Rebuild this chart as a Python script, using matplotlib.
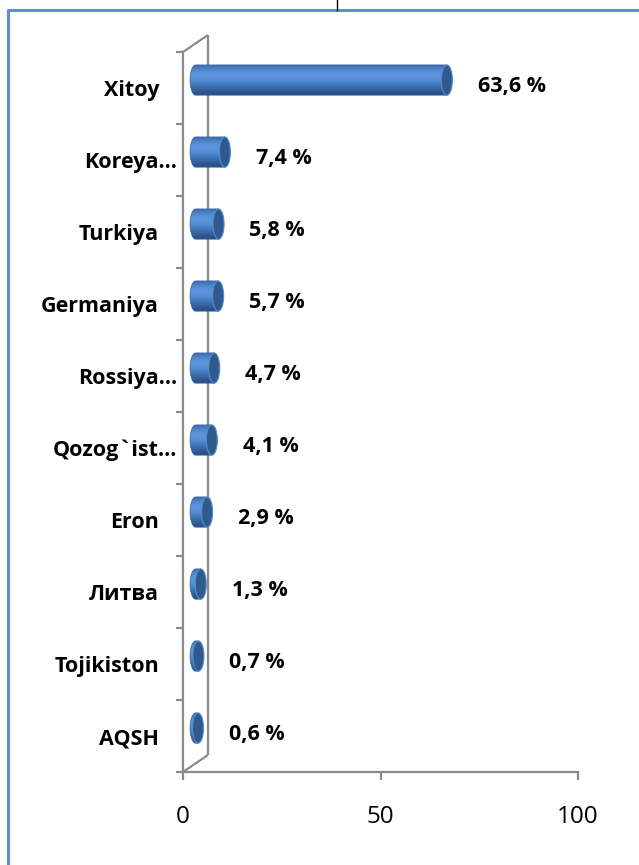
import numpy as np
import matplotlib
matplotlib.use('Agg')
import matplotlib.pyplot as plt
from matplotlib.patches import Ellipse, PathPatch
from matplotlib.path import Path
from matplotlib.lines import Line2D
from matplotlib.colors import LinearSegmentedColormap

# data (top to bottom)
countries = ['Xitoy', 'Koreya…', 'Turkiya', 'Germaniya', 'Rossiya…',
             'Qozog`ist…', 'Eron', 'Литва', 'Tojikiston', 'AQSH']
shares = [63.6, 7.4, 5.8, 5.7, 4.7, 4.1, 2.9, 1.3, 0.7, 0.6]
share_labels = ['63,6 %', '7,4 %', '5,8 %', '5,7 %', '4,7 %',
                '4,1 %', '2,9 %', '1,3 %', '0,7 %', '0,6 %']
x_ticks = [0, 50, 100]

FONT = ['Open Sans', 'DejaVu Sans']
plt.rcParams['font.family'] = FONT

W, H = 639, 865
fig = plt.figure(figsize=(W / 100, H / 100), dpi=100)
fig.patch.set_facecolor('white')

# plot area in pixels: x 183..578, y 52..772
ax = fig.add_axes([183 / W, (H - 772) / H, 395 / W, 720 / H])
ax.set_xlim(0, 100)
ax.set_ylim(-0.5, 9.5)
ax.set_facecolor('none')

grey = '#8a8a8a'
for s in ['top', 'right']:
    ax.spines[s].set_visible(False)
for s in ['left', 'bottom']:
    ax.spines[s].set_color(grey)
    ax.spines[s].set_linewidth(1.6)

ax.set_xticks(x_ticks)
ax.set_xticklabels([str(t) for t in x_ticks], fontsize=17.5)
ax.tick_params(axis='x', length=6, width=1.6, color=grey, pad=18)
ax.set_yticks([k + 0.5 for k in range(-1, 10)])
ax.set_yticklabels([])
ax.tick_params(axis='y', length=5, width=1.6, color=grey)

# back wall of the 3D frame
dx, dy = 6.3, 0.236
kw = dict(color=grey, lw=1.6, clip_on=False, zorder=1, solid_capstyle='butt')
ax.plot([dx, dx], [-0.5 + dy, 9.5 + dy], **kw)
ax.plot([0, dx], [9.5, 9.5 + dy], **kw)
ax.plot([0, dx], [-0.5, -0.5 + dy], **kw)

cmap = LinearSegmentedColormap.from_list('cyl', [
    (0.0, '#274a7a'), (0.2, '#3566a6'), (0.5, '#5690d8'),
    (0.7, '#5c95dc'), (0.88, '#4a80c6'), (1.0, '#33629f')])
grad = np.linspace(0, 1, 64).reshape(-1, 1)

a, b = 1.4, 0.21      # cap half-width (x units), bar half-height (y units)
x0 = 3.2              # start of cylinder body
lift = 0.11           # bars sit a bit above category centre (depth)

n = len(countries)
for i, (name, v, lab) in enumerate(zip(countries, shares, share_labels)):
    y = n - 1 - i
    yc = y + lift
    x1 = x0 + v
    th = np.linspace(np.pi / 2, 3 * np.pi / 2, 40)
    verts = list(zip(x0 + a * np.cos(th), yc + b * np.sin(th)))
    verts += [(x1, yc - b), (x1, yc + b), verts[0]]
    codes = [Path.MOVETO] + [Path.LINETO] * (len(verts) - 2) + [Path.CLOSEPOLY]
    body = PathPatch(Path(verts, codes), transform=ax.transData,
                     facecolor='none', edgecolor='#3a6aa8', lw=0.6, zorder=4)
    im = ax.imshow(grad, extent=[x0 - a, x1, yc - b, yc + b], origin='lower',
                   aspect='auto', cmap=cmap, zorder=3, interpolation='bilinear')
    im.set_clip_path(body)
    ax.add_patch(body)
    ax.add_patch(Ellipse((x1, yc), 2 * a, 2 * b, facecolor='#2f5a8e',
                         edgecolor='#5b8bc9', lw=0.8, zorder=5))

    ax.annotate(lab, xy=(v + 11, y), xytext=(0, -4), textcoords='offset pixels',
                ha='left', va='baseline', fontsize=15.5, fontweight='bold')
    off = -6 if name.endswith('…') else -24
    ax.annotate(name, xy=(0, y), xytext=(off, -8), textcoords='offset pixels',
                ha='right', va='baseline', fontsize=15.5, fontweight='bold')

ax.set_xlim(0, 100)
ax.set_ylim(-0.5, 9.5)

# chart border (only top and left are inside the picture) and a stray tick
fig.add_artist(Line2D([8 / W, 8 / W, 1.0], [0.0, 1 - 10 / H, 1 - 10 / H],
                      transform=fig.transFigure, color='#5b8ed6', lw=2.2))
fig.add_artist(Line2D([337 / W, 337 / W], [1.0, 1 - 10 / H],
                      transform=fig.transFigure, color='black', lw=1))

fig.savefig('out.png', dpi=100)
